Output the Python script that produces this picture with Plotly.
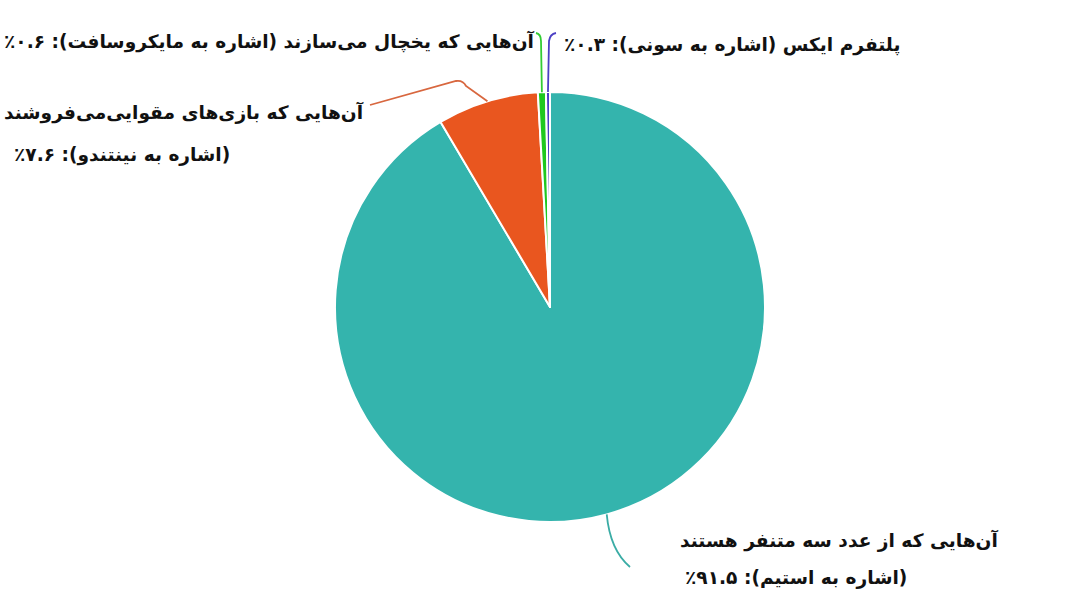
import math
import plotly.graph_objects as go

W, H = 1080, 608

# ---- data ----
groups = [
    "آن‌هایی که از عدد سه متنفر هستند",
    "آن‌هایی که بازی‌های مقوایی‌می‌فروشند",
    "آن‌هایی که یخچال می‌سازند",
    "پلتفرم ایکس",
]
refs = [
    "(اشاره به استیم)",
    "(اشاره به نینتندو)",
    "(اشاره به مایکروسافت)",
    "(اشاره به سونی)",
]
shares = [91.5, 7.6, 0.6, 0.3]
colors = ["#34b4ad", "#e9561f", "#1fc81f", "#4b3fc4"]
line_colors = ["#3aaca5", "#d8673f", "#33cc33", "#4b3fc4"]

FA = str.maketrans("0123456789", "۰۱۲۳۴۵۶۷۸۹")
RLM = "\u200f"


def fa_pct(v):
    return f"{v}".translate(FA) + "٪"


def rtl(s):
    return RLM + s + RLM


# ---- layout (pixels) ----
cx, cy, R = 550, 307, 215


def P(px, py):
    return px / W, 1 - py / H


# each text line: (x, y, xanchor)
label_layout = [
    [(1000, 540, "right"), (683, 578, "left")],
    [(366, 113, "right"), (12, 155, "left")],
    [(537, 42, "right")],
    [(562, 45, "left")],
]
# leader path after the slice edge point (pixel points)
leader_layout = [
    [("Q", (610, 550), (630, 567))],
    [("L", (466, 86)), ("Q", (463, 80), (456, 81)), ("L", (370, 105))],
    [("L", (541, 41)), ("Q", (541, 34), (536, 33))],
    [("L", (549, 41)), ("Q", (550, 34), (556, 33))],
]

fig = go.Figure(
    go.Pie(
        labels=groups,
        values=shares,
        sort=False,
        direction="clockwise",
        rotation=0,
        marker=dict(colors=colors, line=dict(color="white", width=2)),
        textinfo="none",
        hoverinfo="label+percent",
        showlegend=False,
        domain=dict(x=[(cx - R) / W, (cx + R) / W], y=[1 - (cy + R) / H, 1 - (cy - R) / H]),
    )
)

total = sum(shares)
cum = 0.0
shapes = []
annotations = []
for i, v in enumerate(shares):
    a0 = cum / total * 360
    cum += v
    a1 = cum / total * 360
    mid = math.radians((a0 + a1) / 2)
    ex = cx + R * math.sin(mid)
    ey = cy - R * math.cos(mid)
    x, y = P(ex, ey)
    path = f"M {x},{y}"
    for cmd in leader_layout[i]:
        pts = " ".join("{},{}".format(*P(*p)) for p in cmd[1:])
        path += f" {cmd[0]} {pts}"
    shapes.append(dict(type="path", xref="paper", yref="paper", path=path,
                       line=dict(color=line_colors[i], width=1.8)))

    pct_text = refs[i] + ": " + fa_pct(v)
    if len(label_layout[i]) == 2:
        lines = [groups[i], pct_text]
    else:
        lines = [groups[i] + " " + pct_text]
    for line, (lx, ly, xa) in zip(lines, label_layout[i]):
        ax, ay = P(lx, ly)
        annotations.append(dict(
            text=rtl(line), x=ax, y=ay, xref="paper", yref="paper",
            xanchor=xa, yanchor="middle", showarrow=False,
            font=dict(family="DejaVu Sans", size=18.6, color="#111111", weight="bold"),
        ))

fig.update_layout(
    width=W, height=H,
    margin=dict(l=0, r=0, t=0, b=0),
    paper_bgcolor="white",
    plot_bgcolor="white",
    shapes=shapes,
    annotations=annotations,
)

fig.write_html("out.html", config={"displayModeBar": False},
               post_script="document.body.style.margin='0';")
